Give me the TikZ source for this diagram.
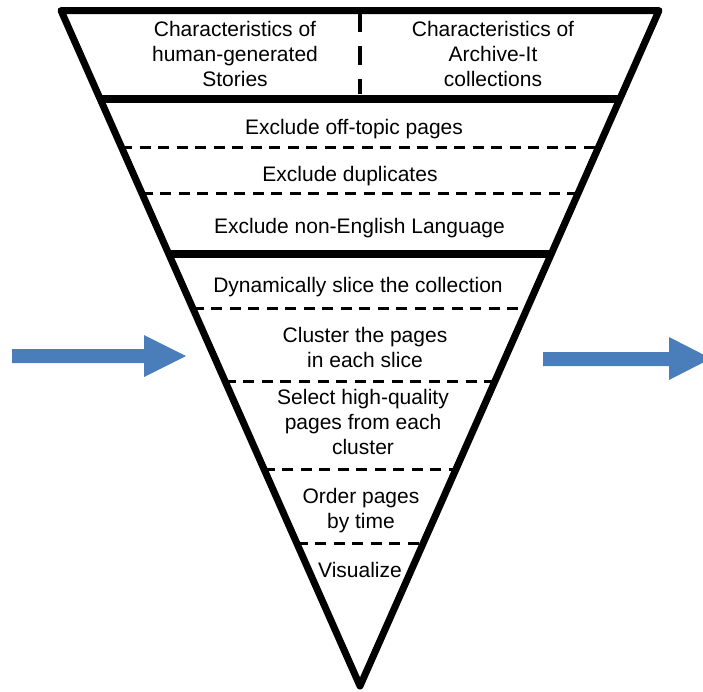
\documentclass[tikz,border=0pt]{standalone}
\usepackage{fontspec}
\setmainfont{Liberation Sans}
\usetikzlibrary{calc}
\definecolor{funnelblue}{HTML}{4A7EBB}

\begin{document}
\begin{tikzpicture}[x=1pt,y=-1pt,
  stage/.style={align=center,inner sep=0pt,font=\fontsize{21}{25}\selectfont},
  thin cut/.style={line width=3pt,dash pattern=on 11pt off 7.5pt},
  thick cut/.style={line width=8pt},
  rim/.style={line width=7pt,line join=round}]
  \useasboundingbox (0,0) rectangle (703,691);

  \coordinate (tl) at (61,10.5);
  \coordinate (tr) at (659,10.5);
  \coordinate (apex) at (360,686);

  % dashed cuts between the steps
  \foreach \y in {147,193,308,381,469,543}
    \draw[thin cut] ($(tl)!{(\y-10.5)/675.5}!(apex)$) -- ($(tr)!{(\y-10.5)/675.5}!(apex)$);
  % solid cuts between the stages
  \foreach \y in {98.5,254}
    \draw[thick cut] ($(tl)!{(\y-10.5)/675.5}!(apex)$) -- ($(tr)!{(\y-10.5)/675.5}!(apex)$);
  \draw[line width=4pt,dash pattern=on 19pt off 14pt] (360,13) -- (360,94);
  \draw[rim] (tl) -- (tr) -- (apex) -- cycle;

  \node[stage] (story) at (235,54.4) {Characteristics of\\human-generated\\Stories};
  \node[stage] (archive) at (493,54.4) {Characteristics of\\Archive-It\\collections};
  \node[stage] (offtopic) at (354,129.5) {Exclude off-topic pages};
  \node[stage] (dup) at (350,176.5) {Exclude duplicates};
  \node[stage] (lang) at (359.5,228.5) {Exclude non-English Language};
  \node[stage] (slice) at (358,287.5) {Dynamically slice the collection};
  \node[stage] (cluster) at (365,347) {Cluster the pages\\in each slice};
  \node[stage] (select) at (363,422.4) {Select high-quality\\pages from each\\cluster};
  \node[stage] (order) at (361,511) {Order pages\\by time};
  \node[stage] (vis) at (360,570.3) {Visualize};

  % in and out
  \fill[funnelblue] (12,349) -- (144,349) -- (144,335) -- (186,356) -- (144,377) -- (144,363) -- (12,363) -- cycle;
  \fill[funnelblue] (543,352) -- (669,352) -- (669,337) -- (711,358.5) -- (669,380) -- (669,366) -- (543,366) -- cycle;
\end{tikzpicture}
\end{document}
